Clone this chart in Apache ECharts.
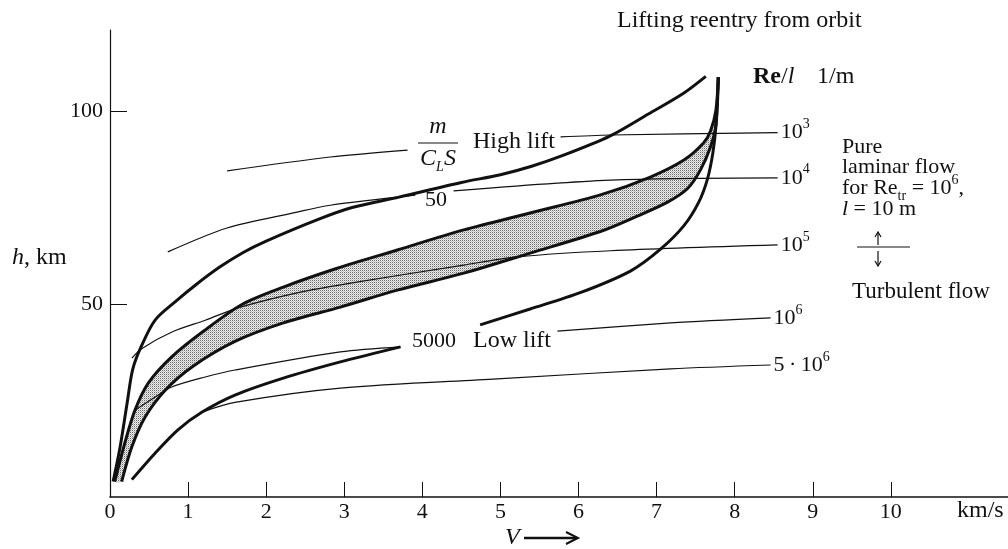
<!DOCTYPE html>
<html>
<head>
<meta charset="utf-8">
<script src="https://cdn.jsdelivr.net/npm/echarts@6/dist/echarts.min.js"></script>
<style>
  html, body { margin: 0; background: #fff; }
  #main { width: 1008px; height: 549px; }
</style>
</head>
<body>
<div id="main"></div>
<script>
// axis ticks
var xLabelValues = [0, 1, 2, 3, 4, 5, 6, 7, 8, 9, 10];
var xTickValues = [1, 2, 3, 4, 5, 6, 7, 8, 9, 10];
var yTickValues = [50, 100];

// flight paths, V [km/s] vs h [km]
var highLift50 = [[0.04, 4], [0.13, 13], [0.22, 24.4], [0.29, 33], [0.4, 39], [0.58, 45.9], [0.86, 51],
  [1.1, 55], [1.4, 59.5], [1.7, 63.3], [2.0, 66.3], [2.65, 71.8], [3.1, 75], [3.7, 77.7], [4.5, 81.5], [5.0, 83.5],
  [5.4, 85.7], [5.8, 88.5], [6.4, 93.5], [6.9, 99.3], [7.35, 104.7], [7.63, 109]];
var bandUpper = [[0.06, 4], [0.19, 14], [0.32, 22.5], [0.49, 29.5], [0.79, 36.3], [1.2, 43], [1.7, 50],
  [2.22, 54.4], [2.9, 59.2], [3.68, 64], [4.53, 69.2], [5.38, 73.6], [6.3, 78.4], [6.92, 82.9],
  [7.35, 87.3], [7.6, 91.7], [7.69, 94.8], [7.76, 100.3], [7.79, 108.8]];
var bandLower = [[0.15, 4], [0.28, 13], [0.45, 20.7], [0.71, 27.7], [1.05, 33.7], [1.6, 40.3], [2.22, 45.1],
  [2.95, 49.2], [3.68, 53.6], [4.53, 58], [5.38, 63.2], [6.28, 68.8], [6.71, 72.4], [7.14, 76.4],
  [7.4, 80], [7.56, 84.7], [7.69, 90.7], [7.76, 96.4], [7.79, 108.8]];
var lowLift5000 = [[0.28, 4.5], [0.58, 11.4], [0.87, 17.4], [1.18, 22], [1.6, 26.4], [2.22, 30.8],
  [2.95, 35], [3.72, 38.9], null, [4.74, 44.6], [5.38, 48.7], [6.03, 53], [6.67, 58.6], [7.05, 64.2],
  [7.35, 70.3], [7.54, 76.4], [7.65, 82.3], [7.72, 89.1], [7.76, 96.2], [7.79, 108.8]];

// lines of constant Re/l [1/m]
var re1e3 = [[1.5, 84.5], [2.82, 88.1], [3.81, 89.9], null, [5.77, 93.3], [6.41, 93.8], [8.55, 94.4]];
var re1e4 = [[0.74, 63.5], [1.5, 69.7], [2.35, 73.6], [2.82, 75.6], [3.91, 78.2], null, [4.4, 79.3],
  [6.41, 82.1], [8.55, 82.7]];
var re1e5 = [[0.28, 36], [0.41, 38.5], [0.8, 42.8], [1.22, 45.8], [1.67, 49.2], [2.44, 53.1], [3.08, 55.4],
  [4.53, 60.1], [5.22, 62.2], [6.41, 63.8], [8.55, 65.3]];
var re1e6 = [[0.32, 22.5], [0.58, 25.9], [0.79, 28.5], [1.22, 31.1], [1.6, 32.9], [2.95, 37.6], [3.72, 38.9],
  null, [5.73, 43], [7.18, 45.1], [8.46, 46.4]];
var re5e6 = [[1.18, 22], [1.6, 24.5], [2.95, 28.2], [4.96, 30.6], [7.18, 33.2], [8.46, 34.2]];

var FONT = '"Liberation Serif", "Times New Roman", serif';
var INK = '#111';

var chart = echarts.init(document.getElementById('main'));

// stipple for the shaded corridor
var tile = document.createElement('canvas');
tile.width = 2; tile.height = 2;
var tctx = tile.getContext('2d');
tctx.fillStyle = '#f0f0f0'; tctx.fillRect(0, 0, 2, 2);
tctx.fillStyle = '#666'; tctx.fillRect(0, 0, 1, 1);
tctx.fillStyle = '#bbb'; tctx.fillRect(1, 1, 1, 1);

function thick(name, data) {
  return {
    type: 'line', name: name, data: data, symbol: 'none', smooth: 0.3, silent: true, z: 4,
    lineStyle: { color: INK, width: 3 }
  };
}

function thin(name, data, label) {
  return {
    type: 'line', name: name, data: data, symbol: 'none', smooth: 0.3, silent: true, z: 3,
    lineStyle: { color: INK, width: 1.2 },
    endLabel: {
      show: true, formatter: label, distance: 3, color: INK,
      fontFamily: FONT, fontSize: 22, lineHeight: 30,
      rich: { s: { fontFamily: FONT, fontSize: 14, lineHeight: 14, verticalAlign: 'top', color: INK } }
    }
  };
}

var band = bandUpper.concat(bandLower.slice().reverse());

function txt(x, y, text, size, opt) {
  opt = opt || {};
  return {
    type: 'text', x: x, y: y, silent: true, z: 10,
    style: {
      text: text, fill: INK, fontFamily: FONT, fontSize: size,
      fontStyle: opt.italic ? 'italic' : 'normal',
      align: opt.align || 'left', verticalAlign: 'middle',
      lineHeight: opt.lineHeight, rich: opt.rich
    }
  };
}

function seg(x1, y1, x2, y2, w) {
  return { type: 'line', silent: true, shape: { x1: x1, y1: y1, x2: x2, y2: y2 },
    style: { stroke: INK, lineWidth: w || 1 } };
}

function richSet(size) {
  return {
    i: { fontFamily: FONT, fontSize: size, fontStyle: 'italic', lineHeight: 30, color: INK },
    b: { fontFamily: FONT, fontSize: size, fontWeight: 'bold', lineHeight: 30, color: INK },
    sup: { fontFamily: FONT, fontSize: 14, lineHeight: 14, verticalAlign: 'top', color: INK },
    sub: { fontFamily: FONT, fontSize: 14, lineHeight: 14, verticalAlign: 'bottom', color: INK },
    subi: { fontFamily: FONT, fontSize: 14, fontStyle: 'italic', lineHeight: 14, verticalAlign: 'bottom', color: INK }
  };
}

var option = {
  backgroundColor: '#fff',
  animation: false,
  grid: { left: 110, right: 0, top: 30, bottom: 52 },
  xAxis: {
    type: 'value', min: 0, max: 11.5, interval: 1,
    axisLine: { lineStyle: { color: INK, width: 1.6 } },
    axisTick: { inside: true, length: 15, customValues: xTickValues, lineStyle: { color: INK, width: 1 } },
    axisLabel: { customValues: xLabelValues, color: INK, fontFamily: FONT, fontSize: 22, margin: 4 },
    splitLine: { show: false }
  },
  yAxis: {
    type: 'value', min: 0, max: 121, interval: 50,
    axisLine: { show: true, lineStyle: { color: INK, width: 1.2 } },
    axisTick: { show: true, inside: true, length: 17, customValues: yTickValues, lineStyle: { color: INK, width: 1 } },
    axisLabel: { customValues: yTickValues, color: INK, fontFamily: FONT, fontSize: 22, margin: 7 },
    splitLine: { show: false }
  },
  series: [
    {
      type: 'custom', name: 'band', silent: true, z: 1, data: band,
      renderItem: function (params, api) {
        if (params.dataIndex !== 0) return null;
        var pts = band.map(function (p) { return api.coord(p); });
        return { type: 'polygon', shape: { points: pts, smooth: 0.2 },
          style: { fill: { image: tile, repeat: 'repeat' } } };
      }
    },
    thick('m/CLS 50 high lift', highLift50),
    thick('band upper', bandUpper),
    thick('band lower', bandLower),
    thick('m/CLS 5000 low lift', lowLift5000),
    thin('Re/l 1e3', re1e3, '10{s|3}'),
    thin('Re/l 1e4', re1e4, '10{s|4}'),
    thin('Re/l 1e5', re1e5, '10{s|5}'),
    thin('Re/l 1e6', re1e6, '10{s|6}'),
    thin('Re/l 5e6', re5e6, '5\u2009·\u200910{s|6}')
  ],
  graphic: [
    txt(617, 21, 'Lifting reentry from orbit', 24),
    txt(753, 77, '{b|Re}/{i|l}', 24, { rich: richSet(24), lineHeight: 30 }),
    txt(817, 77, '1/m', 24),
    txt(842, 147, 'Pure', 22),
    txt(842, 167, 'laminar flow', 22),
    txt(842, 188, 'for Re{sub|tr} = 10{sup|6},', 22, { rich: richSet(22), lineHeight: 30 }),
    txt(842, 209, '{i|l} = 10 m', 22, { rich: richSet(22), lineHeight: 30 }),
    seg(878, 245, 878, 233, 1.2),
    { type: 'polyline', silent: true, shape: { points: [[875, 237], [878, 232], [881, 237]] }, style: { stroke: INK, lineWidth: 1.2, fill: null } },
    seg(857, 247, 910, 247, 1),
    seg(878, 251, 878, 265, 1.2),
    { type: 'polyline', silent: true, shape: { points: [[875, 261], [878, 266], [881, 261]] }, style: { stroke: INK, lineWidth: 1.2, fill: null } },
    txt(852, 292, 'Turbulent flow', 23),
    txt(12, 258, '{i|h}, km', 24, { rich: richSet(24), lineHeight: 30 }),
    txt(957, 511, 'km/s', 24),
    txt(505, 538, 'V', 24, { italic: true }),
    seg(524, 538, 577, 538, 2.5),
    { type: 'polyline', silent: true, shape: { points: [[566, 532], [578, 538], [566, 544]] }, style: { stroke: INK, lineWidth: 2, fill: null } },
    txt(438, 127, 'm', 24, { italic: true, align: 'center' }),
    seg(418, 143, 458, 143, 1),
    txt(438, 159, '{i|C}{subi|L}{i|S}', 24, { rich: richSet(24), lineHeight: 30, align: 'center' }),
    txt(473, 142, 'High lift', 24),
    txt(425, 200, '50', 22),
    txt(412, 341, '5000', 22),
    txt(473, 341, 'Low lift', 24)
  ]
};

chart.setOption(option);
</script>
</body>
</html>
